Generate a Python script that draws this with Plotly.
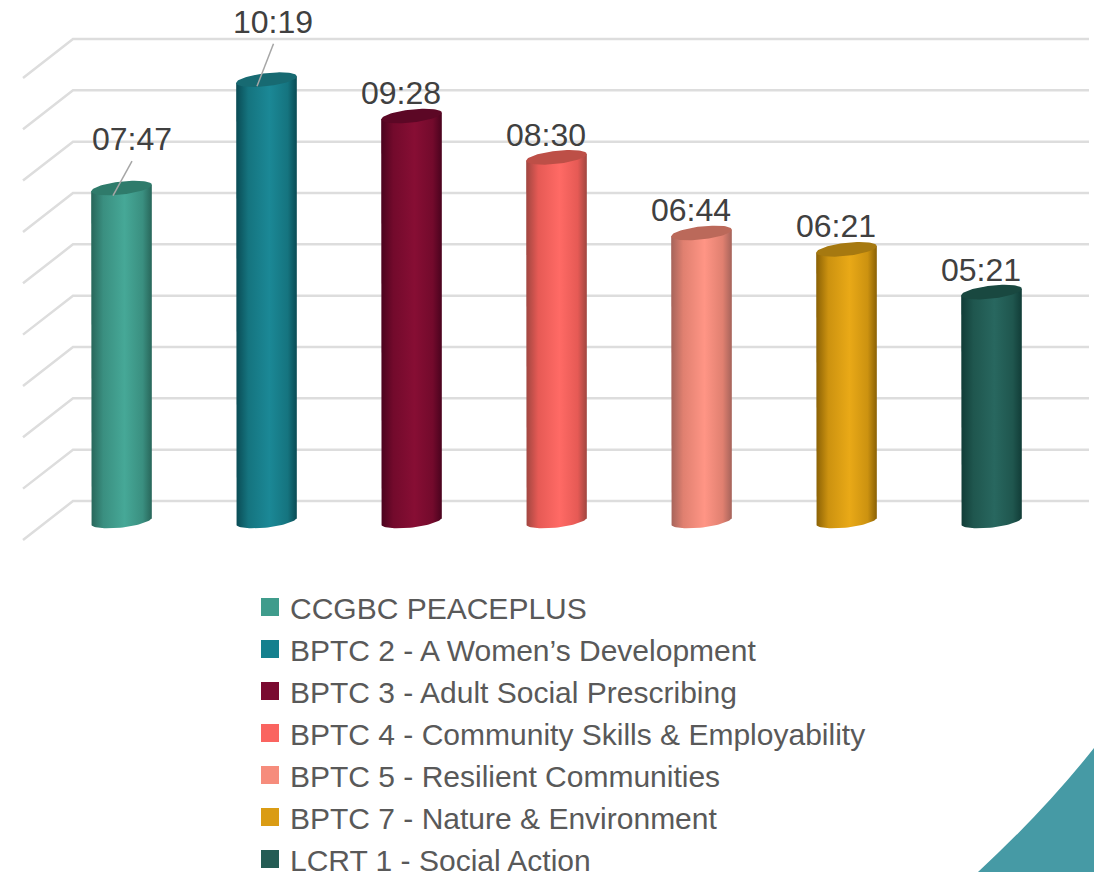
import numpy as np
import plotly.graph_objects as go

# data
categories = ["CCGBC PEACEPLUS", "BPTC 2 - A Women’s Development", "BPTC 3 - Adult Social Prescribing",
              "BPTC 4 - Community Skills & Employability", "BPTC 5 - Resilient Communities",
              "BPTC 7 - Nature & Environment", "LCRT 1 - Social Action"]
durations = ["07:47", "10:19", "09:28", "08:30", "06:44", "06:21", "05:21"]
grid_values = [0, 72, 144, 216, 288, 360, 432, 504, 576, 648]

# colours per bar
swatch_colors = ["#3f9c8c", "#14808e", "#7a0a30", "#fa6460", "#f68c7c", "#da9c14", "#245c54"]
edge_colors = ["#28665a", "#0a4b54", "#4a031e", "#a04640", "#a5635a", "#8a6105", "#113c37"]
side_colors = ["#3a8f80", "#15747f", "#730a2c", "#e65a55", "#e08070", "#cc9210", "#1f564e"]
mid_colors = ["#46a897", "#1b8896", "#870e34", "#ff6a65", "#ff9585", "#e9a917", "#28675f"]
cap_colors = ["#2f7b6b", "#176a72", "#5c0725", "#bd4f47", "#bb695a", "#a67910", "#194840"]

# label offsets from the bar top, pixels
label_dx = [10, 6.5, -10.5, -10.5, -10.5, -10.5, -11]
label_dy = [49, 58, 23, 22, 23, 23, 22]

seconds = [int(d[:2]) * 60 + int(d[3:]) for d in durations]

# pixel scales of the drawing
WIDTH = 1094
HEIGHT = 872
PX_PER_CAT = 145
PX_PER_SEC = 0.713
X0_PX = 121.5
BASE_PX = 521

# cylinder end ellipse, pixels
A = 30.5
B = 6.5
TILT = np.radians(6.5)


def ellipse(t):
    ex = A * np.cos(t) * np.cos(TILT) - B * np.sin(t) * np.sin(TILT)
    ey = A * np.cos(t) * np.sin(TILT) + B * np.sin(t) * np.cos(TILT)
    return ex / PX_PER_CAT, ey / PX_PER_SEC


fig = go.Figure()

# back wall gridlines with the diagonal on the left
wall_x0 = (73 - X0_PX) / PX_PER_CAT
wall_x1 = (1089 - X0_PX) / PX_PER_CAT
front_x = (23 - X0_PX) / PX_PER_CAT
grid_x = []
grid_y = []
for g in grid_values:
    grid_x += [front_x, wall_x0, wall_x1, None]
    grid_y += [g - 26.6, g + 28, g + 28, None]
fig.add_trace(go.Scatter(x = grid_x, y = grid_y, mode = "lines", showlegend = False, hoverinfo = "skip",
                         line = dict(color = "#dddddd", width = 2.5)))

t_right = np.arctan2(-B * np.sin(TILT), A * np.cos(TILT))
t_low = np.linspace(t_right - np.pi, t_right, 40)
t_all = np.linspace(0, 2 * np.pi, 80)

for i, s in enumerate(seconds):
    low_x, low_y = ellipse(t_low)
    cap_x, cap_y = ellipse(t_all)

    body_x = [i + low_x[0]] + list(i + low_x) + [i + low_x[-1]]
    body_y = [s + low_y[0]] + list(low_y) + [s + low_y[-1]]

    fig.add_trace(go.Scatter(x = body_x, y = body_y, mode = "lines", fill = "toself",
                             line = dict(width = 0), showlegend = False, name = categories[i],
                             legendgroup = categories[i], hoverinfo = "skip",
                             fillgradient = dict(type = "horizontal",
                                                 colorscale = [[0, edge_colors[i]], [0.2, side_colors[i]],
                                                               [0.55, mid_colors[i]], [0.85, side_colors[i]],
                                                               [1, edge_colors[i]]])))

    fig.add_trace(go.Scatter(x = i + cap_x, y = s + cap_y, mode = "lines", fill = "toself",
                             fillcolor = cap_colors[i], line = dict(width = 0), showlegend = False,
                             legendgroup = categories[i], hoverinfo = "skip"))

    fig.add_annotation(x = i, y = s, text = durations[i], showarrow = False,
                       xshift = label_dx[i], yshift = label_dy[i],
                       font = dict(family = "Liberation Sans", size = 32, color = "#404040"))

# leader lines of the two labels that sit far from their bars
leaders = [(0, -8.5, -7.5, 10.5, 27), (1, -9.5, -6.5, 7, 36)]
for i, x_a, y_a, x_b, y_b in leaders:
    fig.add_trace(go.Scatter(x = [i + x_a / PX_PER_CAT, i + x_b / PX_PER_CAT],
                             y = [seconds[i] + y_a / PX_PER_SEC, seconds[i] + y_b / PX_PER_SEC],
                             mode = "lines", showlegend = False, hoverinfo = "skip",
                             line = dict(color = "#a6a6a6", width = 1.5)))

# legend entries
for i, name in enumerate(categories):
    fig.add_trace(go.Scatter(x = [None], y = [None], mode = "markers", name = name, legendgroup = name,
                             marker = dict(symbol = "square", size = 16, color = swatch_colors[i],
                                           line = dict(color = swatch_colors[i], width = 2))))

fig.update_layout(
    width = WIDTH,
    height = HEIGHT,
    margin = dict(l = 0, r = 0, t = 0, b = 0, autoexpand = False),
    paper_bgcolor = "white",
    plot_bgcolor = "white",
    xaxis = dict(visible = False, range = [-X0_PX / PX_PER_CAT, (WIDTH - X0_PX) / PX_PER_CAT]),
    yaxis = dict(visible = False, range = [(BASE_PX - HEIGHT) / PX_PER_SEC, BASE_PX / PX_PER_SEC]),
    legend = dict(x = 250 / WIDTH, y = 1 - 581 / HEIGHT, xanchor = "left", yanchor = "top",
                  traceorder = "normal", bgcolor = "rgba(0,0,0,0)", itemwidth = 30,
                  font = dict(family = "Liberation Sans", size = 30, color = "#595959")),
    # teal corner of the slide
    shapes = [dict(type = "path", xref = "paper", yref = "paper", layer = "below", line_width = 0,
                   fillcolor = "#469aa5",
                   path = f"M {978 / WIDTH} 0 Q {1045 / WIDTH} {1 - 810 / HEIGHT} {1094 / WIDTH} {1 - 748 / HEIGHT} "
                          f"L 1 0 Z")],
)

fig.write_html("out.html", config = dict(displayModeBar = False),
               post_script = "document.body.style.margin = '0';")
